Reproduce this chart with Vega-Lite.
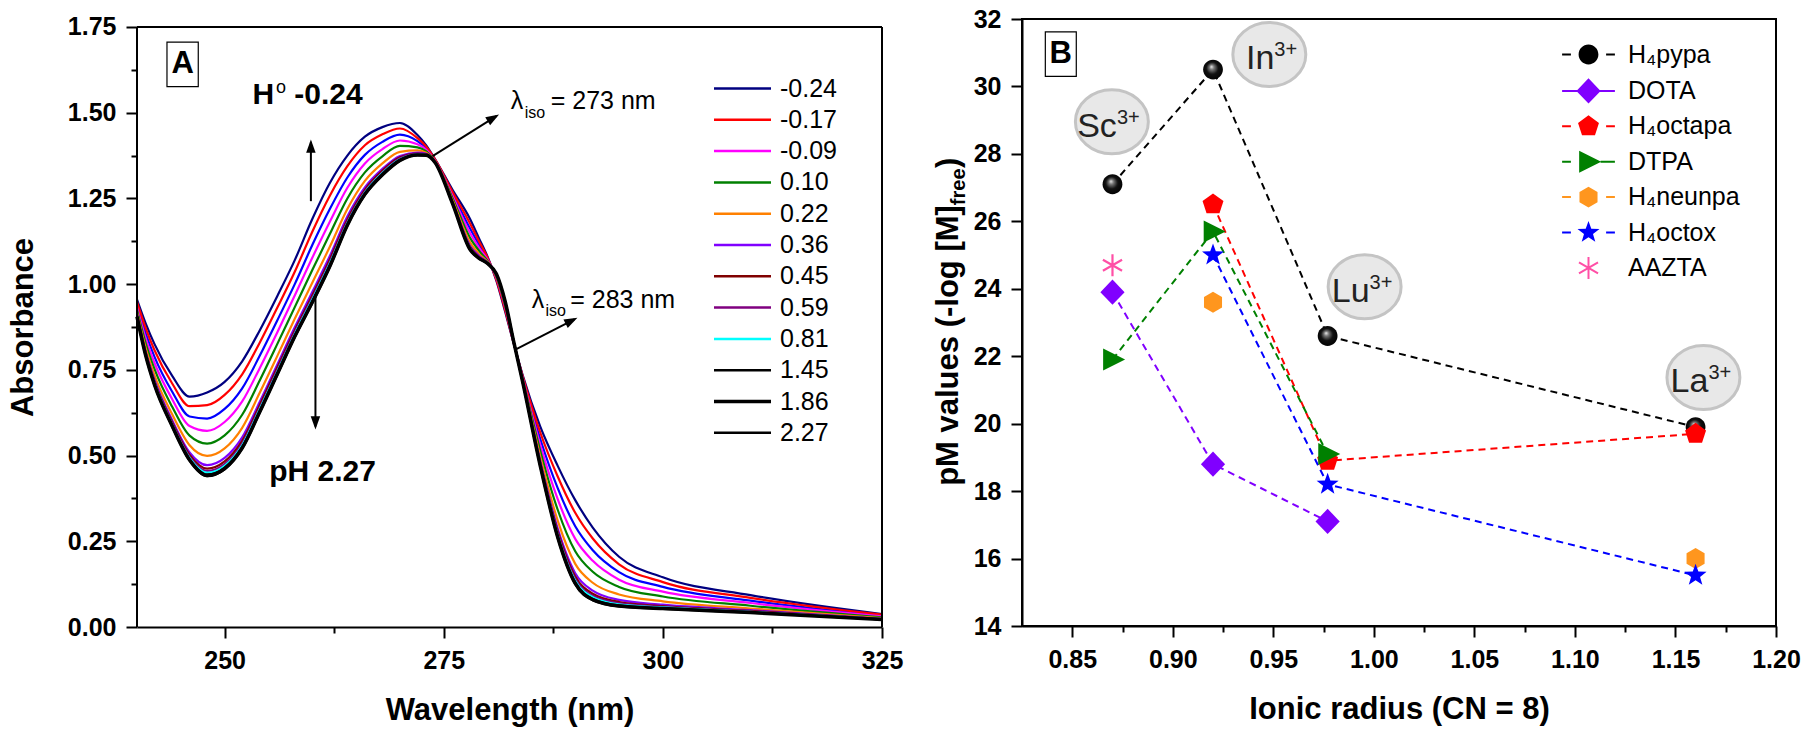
{
"$schema": "https://vega.github.io/schema/vega-lite/v6.json",
"padding": {"left": 7, "top": 6, "right": 3, "bottom": 3},
"spacing": 29,
"config": {
  "font": "Liberation Sans",
  "view": {"stroke": "black", "strokeWidth": 2},
  "axis": {"grid": false, "domainColor": "black", "domainWidth": 2, "tickColor": "black", "tickWidth": 2, "labelFontSize": 25, "labelFontWeight": "bold", "labelColor": "black", "labelFont": "Liberation Sans", "titleFont": "Liberation Sans", "titleFontSize": 31, "titleFontWeight": "bold", "titleColor": "black", "labelPadding": 10, "labelOverlap": false, "labelFlush": false},
  "legend": {"labelFont": "Liberation Sans", "labelColor": "black"}
},
"resolve": {"scale": {"color": "independent"}, "legend": {"color": "independent"}},
"datasets": {
"spec": [
{"s":"-0.24","w":240,"a":0.955},{"s":"-0.24","w":241,"a":0.885},{"s":"-0.24","w":242,"a":0.825},{"s":"-0.24","w":244,"a":0.733},{"s":"-0.24","w":246,"a":0.672},{"s":"-0.24","w":248,"a":0.684},{"s":"-0.24","w":250,"a":0.715},{"s":"-0.24","w":252,"a":0.775},{"s":"-0.24","w":254,"a":0.865},{"s":"-0.24","w":256,"a":0.965},{"s":"-0.24","w":258,"a":1.070},{"s":"-0.24","w":260,"a":1.190},{"s":"-0.24","w":262,"a":1.295},{"s":"-0.24","w":264,"a":1.375},{"s":"-0.24","w":266,"a":1.430},{"s":"-0.24","w":268,"a":1.458},{"s":"-0.24","w":270,"a":1.470},{"s":"-0.24","w":272,"a":1.435},{"s":"-0.24","w":273,"a":1.405},{"s":"-0.24","w":274,"a":1.365},{"s":"-0.24","w":276,"a":1.275},{"s":"-0.24","w":278,"a":1.190},{"s":"-0.24","w":279,"a":1.135},{"s":"-0.24","w":280,"a":1.080},{"s":"-0.24","w":281,"a":1.010},{"s":"-0.24","w":282,"a":0.920},{"s":"-0.24","w":283,"a":0.825},{"s":"-0.24","w":284,"a":0.735},{"s":"-0.24","w":286,"a":0.585},{"s":"-0.24","w":288,"a":0.470},{"s":"-0.24","w":290,"a":0.370},{"s":"-0.24","w":292,"a":0.290},{"s":"-0.24","w":295,"a":0.205},{"s":"-0.24","w":300,"a":0.145},{"s":"-0.24","w":310,"a":0.093},{"s":"-0.24","w":325,"a":0.038},
{"s":"-0.17","w":240,"a":0.948},{"s":"-0.17","w":241,"a":0.871},{"s":"-0.17","w":242,"a":0.807},{"s":"-0.17","w":244,"a":0.711},{"s":"-0.17","w":246,"a":0.644},{"s":"-0.17","w":248,"a":0.647},{"s":"-0.17","w":250,"a":0.677},{"s":"-0.17","w":252,"a":0.737},{"s":"-0.17","w":254,"a":0.829},{"s":"-0.17","w":256,"a":0.931},{"s":"-0.17","w":258,"a":1.036},{"s":"-0.17","w":260,"a":1.153},{"s":"-0.17","w":262,"a":1.258},{"s":"-0.17","w":264,"a":1.344},{"s":"-0.17","w":266,"a":1.405},{"s":"-0.17","w":268,"a":1.437},{"s":"-0.17","w":270,"a":1.454},{"s":"-0.17","w":272,"a":1.426},{"s":"-0.17","w":273,"a":1.401},{"s":"-0.17","w":274,"a":1.364},{"s":"-0.17","w":276,"a":1.269},{"s":"-0.17","w":278,"a":1.177},{"s":"-0.17","w":279,"a":1.126},{"s":"-0.17","w":280,"a":1.077},{"s":"-0.17","w":281,"a":1.013},{"s":"-0.17","w":282,"a":0.925},{"s":"-0.17","w":283,"a":0.826},{"s":"-0.17","w":284,"a":0.732},{"s":"-0.17","w":286,"a":0.568},{"s":"-0.17","w":288,"a":0.439},{"s":"-0.17","w":290,"a":0.333},{"s":"-0.17","w":292,"a":0.258},{"s":"-0.17","w":295,"a":0.183},{"s":"-0.17","w":300,"a":0.131},{"s":"-0.17","w":310,"a":0.085},{"s":"-0.17","w":325,"a":0.036},
{"s":"-0.09","w":240,"a":0.932},{"s":"-0.09","w":241,"a":0.841},{"s":"-0.09","w":242,"a":0.770},{"s":"-0.09","w":244,"a":0.665},{"s":"-0.09","w":246,"a":0.586},{"s":"-0.09","w":248,"a":0.572},{"s":"-0.09","w":250,"a":0.598},{"s":"-0.09","w":252,"a":0.658},{"s":"-0.09","w":254,"a":0.755},{"s":"-0.09","w":256,"a":0.859},{"s":"-0.09","w":258,"a":0.967},{"s":"-0.09","w":260,"a":1.077},{"s":"-0.09","w":262,"a":1.182},{"s":"-0.09","w":264,"a":1.281},{"s":"-0.09","w":266,"a":1.352},{"s":"-0.09","w":268,"a":1.394},{"s":"-0.09","w":270,"a":1.419},{"s":"-0.09","w":272,"a":1.408},{"s":"-0.09","w":273,"a":1.392},{"s":"-0.09","w":274,"a":1.360},{"s":"-0.09","w":276,"a":1.257},{"s":"-0.09","w":278,"a":1.149},{"s":"-0.09","w":279,"a":1.107},{"s":"-0.09","w":280,"a":1.071},{"s":"-0.09","w":281,"a":1.019},{"s":"-0.09","w":282,"a":0.934},{"s":"-0.09","w":283,"a":0.827},{"s":"-0.09","w":284,"a":0.726},{"s":"-0.09","w":286,"a":0.532},{"s":"-0.09","w":288,"a":0.373},{"s":"-0.09","w":290,"a":0.257},{"s":"-0.09","w":292,"a":0.193},{"s":"-0.09","w":295,"a":0.138},{"s":"-0.09","w":300,"a":0.103},{"s":"-0.09","w":310,"a":0.070},{"s":"-0.09","w":325,"a":0.031},
{"s":"0.10","w":240,"a":0.925},{"s":"0.10","w":241,"a":0.827},{"s":"0.10","w":242,"a":0.752},{"s":"0.10","w":244,"a":0.643},{"s":"0.10","w":246,"a":0.558},{"s":"0.10","w":248,"a":0.535},{"s":"0.10","w":250,"a":0.559},{"s":"0.10","w":252,"a":0.619},{"s":"0.10","w":254,"a":0.719},{"s":"0.10","w":256,"a":0.825},{"s":"0.10","w":258,"a":0.933},{"s":"0.10","w":260,"a":1.041},{"s":"0.10","w":262,"a":1.146},{"s":"0.10","w":264,"a":1.250},{"s":"0.10","w":266,"a":1.326},{"s":"0.10","w":268,"a":1.373},{"s":"0.10","w":270,"a":1.403},{"s":"0.10","w":272,"a":1.399},{"s":"0.10","w":273,"a":1.387},{"s":"0.10","w":274,"a":1.359},{"s":"0.10","w":276,"a":1.251},{"s":"0.10","w":278,"a":1.135},{"s":"0.10","w":279,"a":1.098},{"s":"0.10","w":280,"a":1.068},{"s":"0.10","w":281,"a":1.022},{"s":"0.10","w":282,"a":0.938},{"s":"0.10","w":283,"a":0.828},{"s":"0.10","w":284,"a":0.723},{"s":"0.10","w":286,"a":0.515},{"s":"0.10","w":288,"a":0.342},{"s":"0.10","w":290,"a":0.221},{"s":"0.10","w":292,"a":0.161},{"s":"0.10","w":295,"a":0.117},{"s":"0.10","w":300,"a":0.089},{"s":"0.10","w":310,"a":0.062},{"s":"0.10","w":325,"a":0.028},
{"s":"0.22","w":240,"a":0.917},{"s":"0.22","w":241,"a":0.813},{"s":"0.22","w":242,"a":0.734},{"s":"0.22","w":244,"a":0.621},{"s":"0.22","w":246,"a":0.530},{"s":"0.22","w":248,"a":0.499},{"s":"0.22","w":250,"a":0.521},{"s":"0.22","w":252,"a":0.581},{"s":"0.22","w":254,"a":0.683},{"s":"0.22","w":256,"a":0.790},{"s":"0.22","w":258,"a":0.899},{"s":"0.22","w":260,"a":1.004},{"s":"0.22","w":262,"a":1.109},{"s":"0.22","w":264,"a":1.219},{"s":"0.22","w":266,"a":1.301},{"s":"0.22","w":268,"a":1.352},{"s":"0.22","w":270,"a":1.386},{"s":"0.22","w":272,"a":1.390},{"s":"0.22","w":273,"a":1.383},{"s":"0.22","w":274,"a":1.357},{"s":"0.22","w":276,"a":1.245},{"s":"0.22","w":278,"a":1.122},{"s":"0.22","w":279,"a":1.089},{"s":"0.22","w":280,"a":1.065},{"s":"0.22","w":281,"a":1.025},{"s":"0.22","w":282,"a":0.943},{"s":"0.22","w":283,"a":0.829},{"s":"0.22","w":284,"a":0.720},{"s":"0.22","w":286,"a":0.498},{"s":"0.22","w":288,"a":0.310},{"s":"0.22","w":290,"a":0.184},{"s":"0.22","w":292,"a":0.129},{"s":"0.22","w":295,"a":0.095},{"s":"0.22","w":300,"a":0.075},{"s":"0.22","w":310,"a":0.054},{"s":"0.22","w":325,"a":0.026},
{"s":"0.36","w":240,"a":0.912},{"s":"0.36","w":241,"a":0.802},{"s":"0.36","w":242,"a":0.721},{"s":"0.36","w":244,"a":0.604},{"s":"0.36","w":246,"a":0.509},{"s":"0.36","w":248,"a":0.472},{"s":"0.36","w":250,"a":0.493},{"s":"0.36","w":252,"a":0.553},{"s":"0.36","w":254,"a":0.656},{"s":"0.36","w":256,"a":0.765},{"s":"0.36","w":258,"a":0.874},{"s":"0.36","w":260,"a":0.977},{"s":"0.36","w":262,"a":1.082},{"s":"0.36","w":264,"a":1.197},{"s":"0.36","w":266,"a":1.282},{"s":"0.36","w":268,"a":1.336},{"s":"0.36","w":270,"a":1.374},{"s":"0.36","w":272,"a":1.384},{"s":"0.36","w":273,"a":1.380},{"s":"0.36","w":274,"a":1.356},{"s":"0.36","w":276,"a":1.240},{"s":"0.36","w":278,"a":1.112},{"s":"0.36","w":279,"a":1.083},{"s":"0.36","w":280,"a":1.063},{"s":"0.36","w":281,"a":1.027},{"s":"0.36","w":282,"a":0.946},{"s":"0.36","w":283,"a":0.829},{"s":"0.36","w":284,"a":0.718},{"s":"0.36","w":286,"a":0.485},{"s":"0.36","w":288,"a":0.287},{"s":"0.36","w":290,"a":0.157},{"s":"0.36","w":292,"a":0.106},{"s":"0.36","w":295,"a":0.079},{"s":"0.36","w":300,"a":0.065},{"s":"0.36","w":310,"a":0.049},{"s":"0.36","w":325,"a":0.024},
{"s":"0.45","w":240,"a":0.910},{"s":"0.45","w":241,"a":0.799},{"s":"0.45","w":242,"a":0.716},{"s":"0.45","w":244,"a":0.598},{"s":"0.45","w":246,"a":0.502},{"s":"0.45","w":248,"a":0.462},{"s":"0.45","w":250,"a":0.483},{"s":"0.45","w":252,"a":0.543},{"s":"0.45","w":254,"a":0.647},{"s":"0.45","w":256,"a":0.756},{"s":"0.45","w":258,"a":0.865},{"s":"0.45","w":260,"a":0.967},{"s":"0.45","w":262,"a":1.072},{"s":"0.45","w":264,"a":1.188},{"s":"0.45","w":266,"a":1.275},{"s":"0.45","w":268,"a":1.331},{"s":"0.45","w":270,"a":1.370},{"s":"0.45","w":272,"a":1.381},{"s":"0.45","w":273,"a":1.379},{"s":"0.45","w":274,"a":1.356},{"s":"0.45","w":276,"a":1.239},{"s":"0.45","w":278,"a":1.108},{"s":"0.45","w":279,"a":1.080},{"s":"0.45","w":280,"a":1.062},{"s":"0.45","w":281,"a":1.028},{"s":"0.45","w":282,"a":0.947},{"s":"0.45","w":283,"a":0.830},{"s":"0.45","w":284,"a":0.717},{"s":"0.45","w":286,"a":0.480},{"s":"0.45","w":288,"a":0.279},{"s":"0.45","w":290,"a":0.147},{"s":"0.45","w":292,"a":0.097},{"s":"0.45","w":295,"a":0.073},{"s":"0.45","w":300,"a":0.061},{"s":"0.45","w":310,"a":0.047},{"s":"0.45","w":325,"a":0.023},
{"s":"0.59","w":240,"a":0.908},{"s":"0.59","w":241,"a":0.796},{"s":"0.59","w":242,"a":0.712},{"s":"0.59","w":244,"a":0.594},{"s":"0.59","w":246,"a":0.496},{"s":"0.59","w":248,"a":0.455},{"s":"0.59","w":250,"a":0.475},{"s":"0.59","w":252,"a":0.535},{"s":"0.59","w":254,"a":0.639},{"s":"0.59","w":256,"a":0.749},{"s":"0.59","w":258,"a":0.859},{"s":"0.59","w":260,"a":0.960},{"s":"0.59","w":262,"a":1.065},{"s":"0.59","w":264,"a":1.182},{"s":"0.59","w":266,"a":1.270},{"s":"0.59","w":268,"a":1.326},{"s":"0.59","w":270,"a":1.367},{"s":"0.59","w":272,"a":1.380},{"s":"0.59","w":273,"a":1.378},{"s":"0.59","w":274,"a":1.356},{"s":"0.59","w":276,"a":1.237},{"s":"0.59","w":278,"a":1.105},{"s":"0.59","w":279,"a":1.079},{"s":"0.59","w":280,"a":1.061},{"s":"0.59","w":281,"a":1.029},{"s":"0.59","w":282,"a":0.948},{"s":"0.59","w":283,"a":0.830},{"s":"0.59","w":284,"a":0.716},{"s":"0.59","w":286,"a":0.477},{"s":"0.59","w":288,"a":0.273},{"s":"0.59","w":290,"a":0.140},{"s":"0.59","w":292,"a":0.091},{"s":"0.59","w":295,"a":0.069},{"s":"0.59","w":300,"a":0.059},{"s":"0.59","w":310,"a":0.045},{"s":"0.59","w":325,"a":0.023},
{"s":"0.81","w":240,"a":0.907},{"s":"0.81","w":241,"a":0.794},{"s":"0.81","w":242,"a":0.710},{"s":"0.81","w":244,"a":0.591},{"s":"0.81","w":246,"a":0.493},{"s":"0.81","w":248,"a":0.450},{"s":"0.81","w":250,"a":0.470},{"s":"0.81","w":252,"a":0.530},{"s":"0.81","w":254,"a":0.635},{"s":"0.81","w":256,"a":0.744},{"s":"0.81","w":258,"a":0.854},{"s":"0.81","w":260,"a":0.955},{"s":"0.81","w":262,"a":1.060},{"s":"0.81","w":264,"a":1.178},{"s":"0.81","w":266,"a":1.267},{"s":"0.81","w":268,"a":1.324},{"s":"0.81","w":270,"a":1.364},{"s":"0.81","w":272,"a":1.378},{"s":"0.81","w":273,"a":1.377},{"s":"0.81","w":274,"a":1.355},{"s":"0.81","w":276,"a":1.237},{"s":"0.81","w":278,"a":1.104},{"s":"0.81","w":279,"a":1.077},{"s":"0.81","w":280,"a":1.061},{"s":"0.81","w":281,"a":1.029},{"s":"0.81","w":282,"a":0.949},{"s":"0.81","w":283,"a":0.830},{"s":"0.81","w":284,"a":0.716},{"s":"0.81","w":286,"a":0.475},{"s":"0.81","w":288,"a":0.268},{"s":"0.81","w":290,"a":0.135},{"s":"0.81","w":292,"a":0.087},{"s":"0.81","w":295,"a":0.066},{"s":"0.81","w":300,"a":0.057},{"s":"0.81","w":310,"a":0.044},{"s":"0.81","w":325,"a":0.023},
{"s":"1.45","w":240,"a":0.906},{"s":"1.45","w":241,"a":0.792},{"s":"1.45","w":242,"a":0.707},{"s":"1.45","w":244,"a":0.588},{"s":"1.45","w":246,"a":0.489},{"s":"1.45","w":248,"a":0.445},{"s":"1.45","w":250,"a":0.465},{"s":"1.45","w":252,"a":0.525},{"s":"1.45","w":254,"a":0.630},{"s":"1.45","w":256,"a":0.740},{"s":"1.45","w":258,"a":0.850},{"s":"1.45","w":260,"a":0.950},{"s":"1.45","w":262,"a":1.055},{"s":"1.45","w":264,"a":1.174},{"s":"1.45","w":266,"a":1.263},{"s":"1.45","w":268,"a":1.321},{"s":"1.45","w":270,"a":1.362},{"s":"1.45","w":272,"a":1.377},{"s":"1.45","w":273,"a":1.377},{"s":"1.45","w":274,"a":1.355},{"s":"1.45","w":276,"a":1.236},{"s":"1.45","w":278,"a":1.102},{"s":"1.45","w":279,"a":1.076},{"s":"1.45","w":280,"a":1.060},{"s":"1.45","w":281,"a":1.030},{"s":"1.45","w":282,"a":0.949},{"s":"1.45","w":283,"a":0.830},{"s":"1.45","w":284,"a":0.715},{"s":"1.45","w":286,"a":0.472},{"s":"1.45","w":288,"a":0.264},{"s":"1.45","w":290,"a":0.130},{"s":"1.45","w":292,"a":0.082},{"s":"1.45","w":295,"a":0.063},{"s":"1.45","w":300,"a":0.055},{"s":"1.45","w":310,"a":0.043},{"s":"1.45","w":325,"a":0.022},
{"s":"1.86","w":240,"a":0.905},{"s":"1.86","w":241,"a":0.791},{"s":"1.86","w":242,"a":0.706},{"s":"1.86","w":244,"a":0.587},{"s":"1.86","w":246,"a":0.487},{"s":"1.86","w":248,"a":0.442},{"s":"1.86","w":250,"a":0.462},{"s":"1.86","w":252,"a":0.522},{"s":"1.86","w":254,"a":0.627},{"s":"1.86","w":256,"a":0.737},{"s":"1.86","w":258,"a":0.847},{"s":"1.86","w":260,"a":0.947},{"s":"1.86","w":262,"a":1.052},{"s":"1.86","w":264,"a":1.172},{"s":"1.86","w":266,"a":1.262},{"s":"1.86","w":268,"a":1.319},{"s":"1.86","w":270,"a":1.361},{"s":"1.86","w":272,"a":1.377},{"s":"1.86","w":273,"a":1.376},{"s":"1.86","w":274,"a":1.355},{"s":"1.86","w":276,"a":1.235},{"s":"1.86","w":278,"a":1.101},{"s":"1.86","w":279,"a":1.076},{"s":"1.86","w":280,"a":1.060},{"s":"1.86","w":281,"a":1.030},{"s":"1.86","w":282,"a":0.950},{"s":"1.86","w":283,"a":0.830},{"s":"1.86","w":284,"a":0.715},{"s":"1.86","w":286,"a":0.471},{"s":"1.86","w":288,"a":0.262},{"s":"1.86","w":290,"a":0.127},{"s":"1.86","w":292,"a":0.080},{"s":"1.86","w":295,"a":0.061},{"s":"1.86","w":300,"a":0.054},{"s":"1.86","w":310,"a":0.042},{"s":"1.86","w":325,"a":0.022},
{"s":"2.27","w":240,"a":0.905},{"s":"2.27","w":241,"a":0.790},{"s":"2.27","w":242,"a":0.705},{"s":"2.27","w":244,"a":0.585},{"s":"2.27","w":246,"a":0.485},{"s":"2.27","w":248,"a":0.440},{"s":"2.27","w":250,"a":0.460},{"s":"2.27","w":252,"a":0.520},{"s":"2.27","w":254,"a":0.625},{"s":"2.27","w":256,"a":0.735},{"s":"2.27","w":258,"a":0.845},{"s":"2.27","w":260,"a":0.945},{"s":"2.27","w":262,"a":1.050},{"s":"2.27","w":264,"a":1.170},{"s":"2.27","w":266,"a":1.260},{"s":"2.27","w":268,"a":1.318},{"s":"2.27","w":270,"a":1.360},{"s":"2.27","w":272,"a":1.376},{"s":"2.27","w":273,"a":1.376},{"s":"2.27","w":274,"a":1.355},{"s":"2.27","w":276,"a":1.235},{"s":"2.27","w":278,"a":1.100},{"s":"2.27","w":279,"a":1.075},{"s":"2.27","w":280,"a":1.060},{"s":"2.27","w":281,"a":1.030},{"s":"2.27","w":282,"a":0.950},{"s":"2.27","w":283,"a":0.830},{"s":"2.27","w":284,"a":0.715},{"s":"2.27","w":286,"a":0.470},{"s":"2.27","w":288,"a":0.260},{"s":"2.27","w":290,"a":0.125},{"s":"2.27","w":292,"a":0.078},{"s":"2.27","w":295,"a":0.060},{"s":"2.27","w":300,"a":0.053},{"s":"2.27","w":310,"a":0.042},{"s":"2.27","w":325,"a":0.022}
],
"blue": [
{"w":240,"a":0.940},{"w":241,"a":0.856},{"w":242,"a":0.788},{"w":244,"a":0.687},{"w":246,"a":0.614},{"w":248,"a":0.608},{"w":250,"a":0.636},{"w":252,"a":0.696},{"w":254,"a":0.791},{"w":256,"a":0.894},{"w":258,"a":1.000},{"w":260,"a":1.114},{"w":262,"a":1.219},{"w":264,"a":1.311},{"w":266,"a":1.377},{"w":268,"a":1.415},{"w":270,"a":1.436},{"w":272,"a":1.417},{"w":273,"a":1.396},{"w":274,"a":1.362},{"w":276,"a":1.263},{"w":278,"a":1.162},{"w":279,"a":1.116},{"w":280,"a":1.074},{"w":281,"a":1.016},{"w":282,"a":0.929},{"w":283,"a":0.827},{"w":284,"a":0.729},{"w":286,"a":0.549},{"w":288,"a":0.405},{"w":290,"a":0.294},{"w":292,"a":0.224},{"w":295,"a":0.160},{"w":300,"a":0.117},{"w":310,"a":0.077},{"w":325,"a":0.033}
],
"pm": [
{"L":"H₄pypa","r":0.87,"pm":27.1},{"L":"H₄pypa","r":0.92,"pm":30.5},{"L":"H₄pypa","r":0.977,"pm":22.6},{"L":"H₄pypa","r":1.16,"pm":19.9},
{"L":"DOTA","r":0.87,"pm":23.9},{"L":"DOTA","r":0.92,"pm":18.8},{"L":"DOTA","r":0.977,"pm":17.1},
{"L":"H₄octapa","r":0.92,"pm":26.5},{"L":"H₄octapa","r":0.977,"pm":18.9},{"L":"H₄octapa","r":1.16,"pm":19.7},
{"L":"DTPA","r":0.87,"pm":21.9},{"L":"DTPA","r":0.92,"pm":25.7},{"L":"DTPA","r":0.977,"pm":19.1},
{"L":"H₄neunpa","r":0.92,"pm":23.6},{"L":"H₄neunpa","r":1.16,"pm":16.0},
{"L":"H₄octox","r":0.92,"pm":25.0},{"L":"H₄octox","r":0.977,"pm":18.2},{"L":"H₄octox","r":1.16,"pm":15.5},
{"L":"AAZTA","r":0.87,"pm":24.7}
],
"ions": [
{"ion":"Sc","r":0.8697,"pm":28.95},{"ion":"In","r":0.948,"pm":30.95},{"ion":"Lu","r":0.9954,"pm":24.06},{"ion":"La","r":1.1639,"pm":21.37}
]
},
"hconcat": [
{
"width": 745, "height": 608,
"view": {"stroke": null},
"layer": [
{"data": {"name": "blue"}, "mark": {"type": "line", "interpolate": "monotone", "strokeWidth": 2.2, "color": "#0000FF"},
 "encoding": {"x": {"field": "w", "type": "quantitative", "scale": {"domain": [240, 325], "nice": false, "zero": false}}, "y": {"field": "a", "type": "quantitative", "scale": {"domain": [0, 1.77333], "nice": false}}}},
{"data": {"name": "spec"}, "mark": {"type": "line", "interpolate": "monotone"},
 "encoding": {
  "x": {"field": "w", "type": "quantitative", "scale": {"domain": [240, 325], "nice": false, "zero": false},
        "axis": {"title": "Wavelength (nm)", "values": [250, 262.5, 275, 287.5, 300, 312.5, 325], "format": "d", "labelExpr": "datum.value % 25 === 0 ? datum.label : ''", "tickSize": {"condition": {"test": "datum.value % 25 !== 0", "value": 6}, "value": 11}, "titlePadding": 22}},
  "y": {"field": "a", "type": "quantitative", "scale": {"domain": [0, 1.77333], "nice": false},
        "axis": {"title": "Absorbance", "domain": false, "titleY": 308, "values": [0, 0.125, 0.25, 0.375, 0.5, 0.625, 0.75, 0.875, 1, 1.125, 1.25, 1.375, 1.5, 1.625, 1.75], "format": ".2f", "labelExpr": "round(datum.value*1000) % 250 === 0 ? datum.label : ''", "tickSize": {"condition": {"test": "round(datum.value*1000) % 250 !== 0", "value": 6}, "value": 11}, "titlePadding": 28}},
  "color": {"field": "s", "type": "nominal",
    "scale": {"domain": ["-0.24","-0.17","-0.09","0.10","0.22","0.36","0.45","0.59","0.81","1.45","1.86","2.27"], "range": ["#000080","#FF0000","#FF00FF","#008000","#FF8000","#8000FF","#800000","#800080","#00FFFF","#000000","#000000","#000000"]},
    "legend": {"orient": "none", "legendX": 593, "legendY": 57, "title": null, "symbolType": "M-3,0L3,0", "symbolSize": 361, "symbolStrokeWidth": 2.5, "labelFontSize": 25, "rowPadding": 5.3, "labelOffset": 25,
      "encode": {"symbols": {"update": {"strokeWidth": {"signal": "datum.value === '1.86' ? 3.6 : 2.5"}}}}}},
  "strokeWidth": {"condition": {"test": "datum.s === '1.86'", "value": 3.5}, "value": 2.2}
 }},
{"data": {"values": [{}]},
 "layer": [
{"mark": {"type": "rule", "color": "black", "strokeWidth": 2}, "encoding": {"x": {"datum": 240}, "y": {"datum": 0}, "y2": {"datum": 1.75}}},
{"mark": {"type": "rule", "color": "black", "strokeWidth": 2}, "encoding": {"x": {"datum": 325}, "y": {"datum": 0}, "y2": {"datum": 1.75}}},
{"mark": {"type": "rule", "color": "black", "strokeWidth": 2}, "encoding": {"x": {"datum": 240}, "x2": {"datum": 325}, "y": {"datum": 1.75}}},
{"mark": {"type": "rect", "fill": "white", "stroke": "black", "strokeWidth": 1.2}, "encoding": {"x": {"datum": 243.42}, "x2": {"datum": 246.99}, "y": {"datum": 1.706}, "y2": {"datum": 1.576}}},
{"mark": {"type": "text", "text": "A", "fontSize": 31, "fontWeight": "bold", "align": "center", "baseline": "middle", "color": "black"}, "encoding": {"x": {"datum": 245.2}, "y": {"datum": 1.641}}},
{"mark": {"type": "text", "text": "H", "fontSize": 30, "fontWeight": "bold", "align": "left", "baseline": "alphabetic", "color": "black"}, "encoding": {"x": {"datum": 253.19}, "y": {"datum": 1.526}}},
{"mark": {"type": "text", "text": "o", "fontSize": 18, "align": "left", "baseline": "alphabetic", "color": "black"}, "encoding": {"x": {"datum": 255.85}, "y": {"datum": 1.558}}},
{"mark": {"type": "text", "text": "-0.24", "fontSize": 30, "fontWeight": "bold", "align": "left", "baseline": "alphabetic", "color": "black"}, "encoding": {"x": {"datum": 257.94}, "y": {"datum": 1.526}}},
{"mark": {"type": "text", "text": "pH 2.27", "fontSize": 30, "fontWeight": "bold", "align": "left", "baseline": "alphabetic", "color": "black"}, "encoding": {"x": {"datum": 255.08}, "y": {"datum": 0.426}}},
{"mark": {"type": "rule", "color": "black", "strokeWidth": 2}, "encoding": {"x": {"datum": 259.84}, "y": {"datum": 1.242}, "y2": {"datum": 1.415}}},
{"mark": {"type": "point", "shape": "M0,0L-0.5,1.4L0.5,1.4Z", "size": 361, "filled": true, "color": "black", "opacity": 1, "angle": 0}, "encoding": {"x": {"datum": 259.84}, "y": {"datum": 1.422}}},
{"mark": {"type": "rule", "color": "black", "strokeWidth": 2}, "encoding": {"x": {"datum": 260.36}, "y": {"datum": 0.97}, "y2": {"datum": 0.585}}},
{"mark": {"type": "point", "shape": "M0,0L-0.5,1.4L0.5,1.4Z", "size": 361, "filled": true, "color": "black", "opacity": 1, "angle": 180}, "encoding": {"x": {"datum": 260.36}, "y": {"datum": 0.576}}},
{"mark": {"type": "rule", "color": "black", "strokeWidth": 2}, "encoding": {"x": {"datum": 273.72}, "y": {"datum": 1.3736}, "x2": {"datum": 281.0}, "y2": {"datum": 1.49}}},
{"mark": {"type": "point", "shape": "M0,0L-0.5,1.4L0.5,1.4Z", "size": 361, "filled": true, "color": "black", "opacity": 1, "angle": 59}, "encoding": {"x": {"datum": 281.31}, "y": {"datum": 1.4951}}},
{"mark": {"type": "rule", "color": "black", "strokeWidth": 2}, "encoding": {"x": {"datum": 283.22}, "y": {"datum": 0.81}, "x2": {"datum": 289.9}, "y2": {"datum": 0.897}}},
{"mark": {"type": "point", "shape": "M0,0L-0.5,1.4L0.5,1.4Z", "size": 361, "filled": true, "color": "black", "opacity": 1, "angle": 62.9}, "encoding": {"x": {"datum": 290.25}, "y": {"datum": 0.902}}},
{"mark": {"type": "text", "text": "λ", "fontSize": 25, "align": "left", "baseline": "alphabetic", "color": "black"}, "encoding": {"x": {"datum": 282.65}, "y": {"datum": 1.5096}}},
{"mark": {"type": "text", "text": "iso", "fontSize": 16, "align": "left", "baseline": "alphabetic", "color": "black"}, "encoding": {"x": {"datum": 284.24}, "y": {"datum": 1.4851}}},
{"mark": {"type": "text", "text": "= 273 nm", "fontSize": 25, "align": "left", "baseline": "alphabetic", "color": "black"}, "encoding": {"x": {"datum": 287.2}, "y": {"datum": 1.5096}}},
{"mark": {"type": "text", "text": "λ", "fontSize": 25, "align": "left", "baseline": "alphabetic", "color": "black"}, "encoding": {"x": {"datum": 285.04}, "y": {"datum": 0.9309}}},
{"mark": {"type": "text", "text": "iso", "fontSize": 16, "align": "left", "baseline": "alphabetic", "color": "black"}, "encoding": {"x": {"datum": 286.6}, "y": {"datum": 0.9076}}},
{"mark": {"type": "text", "text": "= 283 nm", "fontSize": 25, "align": "left", "baseline": "alphabetic", "color": "black"}, "encoding": {"x": {"datum": 289.43}, "y": {"datum": 0.9309}}}
 ]}
]
},
{
"width": 754, "height": 607,
"layer": [
{"data": {"name": "pm"}, "transform": [{"filter": "datum.L !== 'H₄neunpa' && datum.L !== 'AAZTA'"}],
 "mark": {"type": "line", "strokeWidth": 2, "strokeDash": [7, 5]},
 "encoding": {
  "x": {"field": "r", "type": "quantitative", "scale": {"domain": [0.825, 1.2], "nice": false, "zero": false},
        "axis": {"title": "Ionic radius (CN = 8)", "values": [0.85, 0.875, 0.9, 0.925, 0.95, 0.975, 1.0, 1.025, 1.05, 1.075, 1.1, 1.125, 1.15, 1.175, 1.2], "format": ".2f", "labelExpr": "round(datum.value*1000) % 50 === 0 ? datum.label : ''", "tickSize": {"condition": {"test": "round(datum.value*1000) % 50 !== 0", "value": 6}, "value": 11}, "titlePadding": 22}},
  "y": {"field": "pm", "type": "quantitative", "scale": {"domain": [14, 32], "nice": false, "zero": false},
        "axis": {"title": null, "values": [14,15,16,17,18,19,20,21,22,23,24,25,26,27,28,29,30,31,32], "labelExpr": "datum.value % 2 === 0 ? datum.label : ''", "tickSize": {"condition": {"test": "datum.value % 2 !== 0", "value": 6}, "value": 11}}},
  "color": {"field": "L", "type": "nominal",
    "scale": {"domain": ["H₄pypa","DOTA","H₄octapa","DTPA","H₄neunpa","H₄octox","AAZTA"], "range": ["#000000","#8000FF","#FF0000","#008000","#FF961E","#0000FF","#FF4FA6"]},
    "legend": {"orient": "none", "legendX": 554, "legendY": 23, "title": null, "symbolSize": 484, "symbolStrokeWidth": 0, "labelFontSize": 25, "rowPadding": 9.4, "labelOffset": 27,
      "encode": {"symbols": {"update": {
        "shape": {"signal": "{'H₄pypa':'M-2.4,-0.09L-1.6,-0.09L-1.6,0.09L-2.4,0.09ZM1.6,-0.09L2.4,-0.09L2.4,0.09L1.6,0.09ZM-0.9,0A0.9,0.9,0,1,1,0.9,0A0.9,0.9,0,1,1,-0.9,0Z','DOTA':'M-2.4,-0.09L-1.0,-0.09L-1.0,0.09L-2.4,0.09ZM1.0,-0.09L2.4,-0.09L2.4,0.09L1.0,0.09ZM0,-1.15L1.1,0L0,1.15L-1.1,0Z','H₄octapa':'M-2.4,-0.09L-1.6,-0.09L-1.6,0.09L-2.4,0.09ZM1.6,-0.09L2.4,-0.09L2.4,0.09L1.6,0.09ZM0,-1L0.951,-0.309L0.588,0.809L-0.588,0.809L-0.951,-0.309Z','DTPA':'M-2.4,-0.09L-1.6,-0.09L-1.6,0.09L-2.4,0.09ZM1.1,-0.09L2.4,-0.09L2.4,0.09L1.1,0.09ZM-0.85,-1L1.15,0L-0.85,1Z','H₄neunpa':'M-2.4,-0.09L-1.6,-0.09L-1.6,0.09L-2.4,0.09ZM1.6,-0.09L2.4,-0.09L2.4,0.09L1.6,0.09ZM0,-0.95L0.82,-0.475L0.82,0.475L0,0.95L-0.82,0.475L-0.82,-0.475Z','H₄octox':'M-2.4,-0.09L-1.6,-0.09L-1.6,0.09L-2.4,0.09ZM1.6,-0.09L2.4,-0.09L2.4,0.09L1.6,0.09ZM0,-1.05L0.253,-0.348L0.999,-0.324L0.409,0.133L0.617,0.849L0,0.43L-0.617,0.849L-0.409,0.133L-0.999,-0.324L-0.253,-0.348Z','AAZTA':'M-0.09,-1L0.09,-1L0.09,1L-0.09,1ZM-0.911,-0.422L-0.821,-0.578L0.911,0.422L0.821,0.578ZM-0.821,0.578L-0.911,0.422L0.821,-0.578L0.911,-0.422Z'}[datum.value]"},
        "fill": {"signal": "{'H₄pypa':'#000000','DOTA':'#8000FF','H₄octapa':'#FF0000','DTPA':'#008000','H₄neunpa':'#FF961E','H₄octox':'#0000FF','AAZTA':'#FF4FA6'}[datum.value]"},
        "stroke": {"value": "transparent"},
        "strokeWidth": {"value": 0},
        "opacity": {"value": 1}
      }}}}},
  "detail": {"field": "L"}
 }},
{"data": {"name": "pm"}, "transform": [{"filter": "datum.L === 'H₄pypa'"}],
 "mark": {"type": "point", "shape": "M-0.9,0A0.9,0.9,0,1,1,0.9,0A0.9,0.9,0,1,1,-0.9,0Z", "size": 484, "filled": true, "opacity": 1, "strokeWidth": 0,
   "fill": {"gradient": "radial", "x1": 0.42, "y1": 0.35, "r1": 0, "x2": 0.5, "y2": 0.5, "r2": 0.55, "stops": [{"offset": 0, "color": "#f0f0f0"}, {"offset": 0.22, "color": "#777777"}, {"offset": 0.55, "color": "#111111"}, {"offset": 1, "color": "#000000"}]}},
 "encoding": {"x": {"field": "r", "type": "quantitative"}, "y": {"field": "pm", "type": "quantitative"}}},
{"data": {"name": "pm"}, "transform": [{"filter": "datum.L === 'DOTA'"}],
 "mark": {"type": "point", "shape": "M0,-1.15L1.1,0L0,1.15L-1.1,0Z", "size": 484, "filled": true, "fill": "#8000FF", "opacity": 1, "strokeWidth": 0},
 "encoding": {"x": {"field": "r", "type": "quantitative"}, "y": {"field": "pm", "type": "quantitative"}}},
{"data": {"name": "pm"}, "transform": [{"filter": "datum.L === 'H₄octapa'"}],
 "mark": {"type": "point", "shape": "M0,-1L0.951,-0.309L0.588,0.809L-0.588,0.809L-0.951,-0.309Z", "size": 484, "filled": true, "fill": "#FF0000", "opacity": 1, "strokeWidth": 0},
 "encoding": {"x": {"field": "r", "type": "quantitative"}, "y": {"field": "pm", "type": "quantitative"}}},
{"data": {"name": "pm"}, "transform": [{"filter": "datum.L === 'DTPA'"}],
 "mark": {"type": "point", "shape": "M-0.85,-1L1.15,0L-0.85,1Z", "size": 484, "filled": true, "fill": "#008000", "opacity": 1, "strokeWidth": 0},
 "encoding": {"x": {"field": "r", "type": "quantitative"}, "y": {"field": "pm", "type": "quantitative"}}},
{"data": {"name": "pm"}, "transform": [{"filter": "datum.L === 'H₄neunpa'"}],
 "mark": {"type": "point", "shape": "M0,-0.95L0.82,-0.475L0.82,0.475L0,0.95L-0.82,0.475L-0.82,-0.475Z", "size": 484, "filled": true, "fill": "#FF961E", "opacity": 1, "strokeWidth": 0},
 "encoding": {"x": {"field": "r", "type": "quantitative"}, "y": {"field": "pm", "type": "quantitative"}}},
{"data": {"name": "pm"}, "transform": [{"filter": "datum.L === 'H₄octox'"}],
 "mark": {"type": "point", "shape": "M0,-1.05L0.253,-0.348L0.999,-0.324L0.409,0.133L0.617,0.849L0,0.43L-0.617,0.849L-0.409,0.133L-0.999,-0.324L-0.253,-0.348Z", "size": 484, "filled": true, "fill": "#0000FF", "opacity": 1, "strokeWidth": 0},
 "encoding": {"x": {"field": "r", "type": "quantitative"}, "y": {"field": "pm", "type": "quantitative"}}},
{"data": {"name": "pm"}, "transform": [{"filter": "datum.L === 'AAZTA'"}],
 "mark": {"type": "point", "shape": "M0,-1L0,1M-0.87,-0.5L0.87,0.5M-0.87,0.5L0.87,-0.5", "size": 484, "filled": false, "stroke": "#FF4FA6", "strokeWidth": 2.2, "opacity": 1},
 "encoding": {"x": {"field": "r", "type": "quantitative"}, "y": {"field": "pm", "type": "quantitative"}}},
{"data": {"name": "ions"},
 "mark": {"type": "point", "shape": "M-1.14,0A1.14,1,0,1,1,1.14,0A1.14,1,0,1,1,-1.14,0Z", "size": 4096, "filled": true, "fill": "#E8E8E8", "stroke": "#C4C4C4", "strokeWidth": 3, "opacity": 1},
 "encoding": {"x": {"field": "r", "type": "quantitative"}, "y": {"field": "pm", "type": "quantitative"}}},
{"data": {"name": "ions"},
 "mark": {"type": "text", "fontSize": 34, "font": "Liberation Sans Narrow, Liberation Sans", "align": "right", "baseline": "alphabetic", "dx": 5, "dy": 15, "color": "#222222"},
 "encoding": {"x": {"field": "r", "type": "quantitative"}, "y": {"field": "pm", "type": "quantitative"}, "text": {"field": "ion"}}},
{"data": {"name": "ions"},
 "mark": {"type": "text", "text": "3+", "fontSize": 20, "font": "Liberation Sans Narrow, Liberation Sans", "align": "left", "baseline": "alphabetic", "dx": 5, "dy": 2, "color": "#222222"},
 "encoding": {"x": {"field": "r", "type": "quantitative"}, "y": {"field": "pm", "type": "quantitative"}}},
{"data": {"values": [{}]},
 "layer": [
{"mark": {"type": "rect", "fill": "white", "stroke": "black", "strokeWidth": 1.2}, "encoding": {"x": {"datum": 0.8366}, "x2": {"datum": 0.852}, "y": {"datum": 31.62}, "y2": {"datum": 30.3}}},
{"mark": {"type": "text", "text": "B", "fontSize": 31, "fontWeight": "bold", "align": "center", "baseline": "middle", "color": "black"}, "encoding": {"x": {"datum": 0.8443}, "y": {"datum": 30.96}}},
{"mark": {"type": "text", "text": "pM values (-log [M]", "fontSize": 31, "fontWeight": "bold", "angle": 270, "align": "right", "baseline": "alphabetic", "dy": -64, "color": "black"}, "encoding": {"x": {"datum": 0.825}, "y": {"datum": 26.48}}},
{"mark": {"type": "text", "text": "free", "fontSize": 20, "fontWeight": "bold", "angle": 270, "align": "left", "baseline": "alphabetic", "dy": -57, "color": "black"}, "encoding": {"x": {"datum": 0.825}, "y": {"datum": 26.48}}},
{"mark": {"type": "text", "text": ")", "fontSize": 31, "fontWeight": "bold", "angle": 270, "align": "left", "baseline": "alphabetic", "dy": -64, "color": "black"}, "encoding": {"x": {"datum": 0.825}, "y": {"datum": 27.58}}}
 ]}
]
}
]
}
